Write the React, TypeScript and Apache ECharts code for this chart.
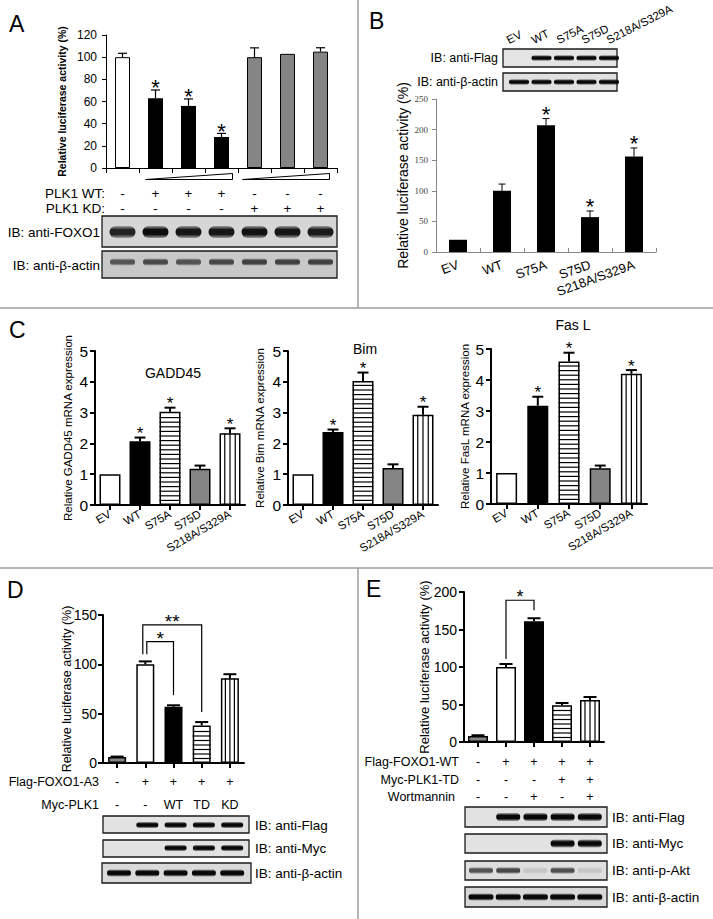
import React, { useEffect, useRef } from "react";
import * as echarts from "echarts";

const SANS = "'Liberation Sans', Arial, Helvetica, sans-serif";
const SERIF = "'Liberation Serif', 'DejaVu Serif', serif";

/* ---------------- Panel A ---------------- */
const aLanes = ["1", "2", "3", "4", "5", "6", "7"];
const aValues = [100, 63, 56, 28, 100, 103, 105];
const aErrors = [3.5, 7.4, 6.3, 3.2, 8.4, 0, 3.5];
const aSig = ["", "*", "*", "*", "", "", ""];
const aPlk1WT = ["-", "+", "+", "+", "-", "-", "-"];
const aPlk1KD = ["-", "-", "-", "-", "+", "+", "+"];
const aFoxo1Bands = [0.88, 1, 0.95, 0.95, 0.97, 0.95, 0.93];
const aActinBands = [0.72, 0.8, 0.74, 0.8, 0.85, 0.85, 0.85];

/* ---------------- Panel B ---------------- */
const bCategories = ["EV", "WT", "S75A", "S75D", "S218A/S329A"];
const bValues = [20, 100, 207, 57, 156];
const bErrors = [0, 11, 11, 10, 14];
const bSig = ["", "", "*", "*", "*"];
const bFlagBands = [0, 1, 1, 1, 1];
const bActinBands = [1, 1, 1, 1, 1];

/* ---------------- Panel C ---------------- */
const cCategories = ["EV", "WT", "S75A", "S75D", "S218A/S329A"];
const gaddValues = [1.0, 2.07, 3.03, 1.18, 2.33];
const gaddErrors = [0, 0.12, 0.13, 0.1, 0.16];
const gaddSig = ["", "*", "*", "", "*"];
const bimValues = [1.0, 2.37, 4.03, 1.2, 2.93];
const bimErrors = [0, 0.08, 0.27, 0.12, 0.26];
const bimSig = ["", "*", "*", "", "*"];
const faslValues = [1.0, 3.17, 4.6, 1.15, 4.2];
const faslErrors = [0, 0.29, 0.28, 0.09, 0.12];
const faslSig = ["", "*", "*", "", "*"];

/* ---------------- Panel D ---------------- */
const dLanes = ["1", "2", "3", "4", "5"];
const dValues = [6, 100, 57, 38, 86];
const dErrors = [0.5, 3, 1.5, 3.5, 4];
const dFlagFoxo1A3 = ["-", "+", "+", "+", "+"];
const dMycPlk1 = ["-", "-", "WT", "TD", "KD"];
const dBrackets = [
  { from: 1, to: 2, top: 123, label: "*" },
  { from: 1, to: 3, top: 140, label: "**" },
];
const dFlagBands = [0, 1, 1, 1, 1];
const dMycBands = [0, 0, 1, 1, 1];
const dActinBands = [1, 1, 1, 1, 1];

/* ---------------- Panel E ---------------- */
const eLanes = ["1", "2", "3", "4", "5"];
const eValues = [8, 100, 161, 49, 56];
const eErrors = [1, 4, 4, 3, 4];
const eFlagFoxo1WT = ["-", "+", "+", "+", "+"];
const eMycPlk1TD = ["-", "-", "-", "+", "+"];
const eWortmannin = ["-", "-", "+", "-", "+"];
const eBrackets = [{ from: 1, to: 2, top: 189, label: "*" }];
const eFlagBands = [0, 1, 1, 1, 1];
const eMycBands = [0, 0, 0, 1, 1];
const ePAktBands = [0.72, 0.78, 0.12, 0.74, 0.12];
const eActinBands = [1, 1, 1, 1, 1];

/* ---------------- styles / layout ---------------- */
const aFill = ["white", "black", "black", "black", "gray", "gray", "gray"];
const bFill = ["black", "black", "black", "black", "black"];
const cFill = ["white", "black", "hstripe", "gray", "vstripe"];
const deFill = ["gray", "white", "black", "hstripe", "vstripe"];

const GRIDS = [
  { left: 106, top: 35, width: 231, height: 133 }, // A
  { left: 436, top: 99, width: 220, height: 153 }, // B
  { left: 95, top: 351, width: 150, height: 154 }, // C GADD45
  { left: 288, top: 351, width: 150, height: 154 }, // C Bim
  { left: 491, top: 349, width: 156, height: 155 }, // C FasL
  { left: 103, top: 615, width: 141, height: 148 }, // D
  { left: 464, top: 592, width: 140, height: 150 }, // E
];

const centersOf = (g: any, n: number) =>
  Array.from({ length: n }, (_, i) => g.left + ((i + 0.5) * g.width) / n);

function fillColor(f: string) {
  if (f === "black") return "#000";
  if (f === "gray") return "#858585";
  return "#fff";
}

function bars(gi: number, values: number[], fills: string[], barWidth: number, bw: number) {
  return {
    type: "bar",
    xAxisIndex: gi,
    yAxisIndex: gi,
    barWidth,
    silent: true,
    z: 2,
    data: values.map((v, i) => ({
      value: v,
      itemStyle: {
        color: fillColor(fills[i]),
        borderColor: "#000",
        borderWidth: fills[i] === "black" ? 0 : bw,
      },
    })),
  };
}

function overlay(gi: number, values: number[], errors: number[], sigs: string[], fills: string[], o: any) {
  return {
    type: "custom",
    xAxisIndex: gi,
    yAxisIndex: gi,
    z: 5,
    silent: true,
    clip: false,
    data: values.map((v, i) => [i, v, errors[i]]),
    renderItem: (params: any, api: any) => {
      const idx = params.dataIndex;
      const i = api.value(0);
      const v = api.value(1);
      const e = api.value(2);
      const base = api.coord([i, 0]);
      const top = api.coord([i, v]);
      const cap = api.coord([i, v + e]);
      const cx = top[0];
      const hw = o.barWidth / 2;
      const kids: any[] = [];
      const ln = (x1: number, y1: number, x2: number, y2: number, w: number) =>
        kids.push({ type: "line", shape: { x1, y1, x2, y2 }, style: { stroke: "#000", lineWidth: w } });
      if (fills[idx] === "hstripe") {
        for (let y = base[1] - o.hGap; y > top[1] + 1.5; y -= o.hGap) ln(cx - hw, y, cx + hw, y, o.stripeW);
      }
      if (fills[idx] === "vstripe") {
        for (let k = 1; k < 4; k++) {
          const x = cx - hw + (k * o.barWidth) / 4;
          ln(x, top[1], x, base[1], o.stripeW);
        }
      }
      if (e > 0) {
        ln(cx, top[1], cx, cap[1], o.errW);
        ln(cx - o.capW / 2, cap[1], cx + o.capW / 2, cap[1], o.errW);
      }
      if (sigs[idx]) {
        kids.push({
          type: "text",
          x: cx,
          y: cap[1] - o.sigDy,
          style: { text: sigs[idx], fill: "#000", fontSize: o.sigSize, fontFamily: SANS, align: "center", verticalAlign: "middle" },
        });
      }
      return { type: "group", children: kids };
    },
  };
}

function brackets(gi: number, list: any[], values: number[], errors: number[], shifts: number[], o: any) {
  return {
    type: "custom",
    xAxisIndex: gi,
    yAxisIndex: gi,
    z: 6,
    silent: true,
    clip: false,
    data: list.map((b) => [b.from, b.to, b.top]),
    renderItem: (params: any, api: any) => {
      const idx = params.dataIndex;
      const from = api.value(0);
      const to = api.value(1);
      const top = api.value(2);
      const t1 = api.coord([from, top]);
      const t2 = api.coord([to, top]);
      const pL = api.coord([from, values[from] + errors[from]]);
      const pR = api.coord([to, values[to] + errors[to]]);
      const x1 = t1[0] + shifts[idx];
      const x2 = t2[0];
      return {
        type: "group",
        children: [
          {
            type: "polyline",
            shape: { points: [[x1, pL[1] - o.leftGap], [x1, t1[1]], [x2, t1[1]], [x2, pR[1] - o.rightGap]] },
            style: { stroke: "#000", lineWidth: o.lw, fill: "none" },
          },
          {
            type: "text",
            x: (x1 + x2) / 2,
            y: t1[1] - o.sigDy,
            style: { text: list[idx].label, fill: "#000", fontSize: o.sigSize, fontFamily: SANS, align: "center", verticalAlign: "middle" },
          },
        ],
      };
    },
  };
}

function catAxis(gi: number, data: string[], o: any) {
  return {
    gridIndex: gi,
    type: "category",
    data,
    boundaryGap: true,
    axisLine: { show: true, lineStyle: { color: o.color, width: o.w } },
    axisTick: { show: true, alignWithLabel: o.align, inside: !!o.inside, length: o.tickLen, lineStyle: { color: o.color, width: o.w } },
    axisLabel: o.label
      ? { show: true, interval: 0, rotate: o.rotate, fontSize: o.fontSize, fontFamily: SANS, color: "#000", margin: o.margin }
      : { show: false },
    splitLine: { show: false },
  };
}

function valAxis(gi: number, max: number, interval: number, o: any) {
  return {
    gridIndex: gi,
    type: "value",
    min: 0,
    max,
    interval,
    axisLine: { show: true, lineStyle: { color: o.color, width: o.w } },
    axisTick: { show: true, inside: false, length: o.tickLen, lineStyle: { color: o.color, width: o.w } },
    axisLabel: { show: true, fontSize: o.fontSize, fontFamily: o.family || SANS, color: o.labelColor || "#000", margin: o.margin },
    splitLine: { show: false },
    name: o.name,
    nameLocation: "middle",
    nameGap: o.nameGap,
    nameRotate: 90,
    nameMoveOverlap: false,
    nameTextStyle: { fontSize: o.nameSize, fontFamily: SANS, color: "#000", fontWeight: o.nameWeight || "normal" },
  };
}

function bandFill(level: number, dark: number) {
  const c = (a: number) => `rgba(${dark},${dark},${dark},${Math.min(1, a)})`;
  return {
    type: "linear",
    x: 0,
    y: 0,
    x2: 0,
    y2: 1,
    colorStops: [
      { offset: 0, color: c(level * 0.3) },
      { offset: 0.3, color: c(level) },
      { offset: 0.7, color: c(level) },
      { offset: 1, color: c(level * 0.3) },
    ],
  };
}

function buildGraphics() {
  const els: any[] = [];
  const T = (text: string, x: number, y: number, size: number, align = "center", extra: any = {}) =>
    els.push({
      type: "text",
      x,
      y,
      rotation: extra.rotation || 0,
      silent: true,
      style: {
        text,
        fill: "#000",
        fontSize: size,
        fontFamily: SANS,
        fontWeight: extra.weight || "normal",
        align,
        verticalAlign: extra.va || "middle",
      },
    });
  const L = (x1: number, y1: number, x2: number, y2: number, color: string, w: number) =>
    els.push({ type: "line", silent: true, shape: { x1, y1, x2, y2 }, style: { stroke: color, lineWidth: w } });
  const box = (x: number, y: number, w: number, h: number, fill: string) =>
    els.push({ type: "rect", silent: true, shape: { x, y, width: w, height: h }, style: { fill, stroke: "#1a1a1a", lineWidth: 1.3 } });
  const bandRow = (centers: number[], cy: number, w: number, h: number, levels: number[], dark = 12) =>
    levels.forEach((lv, i) => {
      if (lv <= 0) return;
      els.push({
        type: "rect",
        silent: true,
        shape: { x: centers[i] - w / 2, y: cy - h / 2, width: w, height: h, r: h / 2 },
        style: { fill: bandFill(lv, dark) },
      });
    });

  // separators
  const sep = "#9c9c9c";
  L(0, 308, 713, 308, sep, 1.5);
  L(0, 568, 713, 568, sep, 1.5);
  L(358, 0, 358, 308, sep, 1.5);
  L(358, 568, 358, 919, sep, 1.5);

  // panel letters
  T("A", 9, 24, 23, "left");
  T("B", 369, 21, 23, "left");
  T("C", 9, 330, 23, "left");
  T("D", 7, 590, 23, "left");
  T("E", 366, 589, 23, "left");

  // ---- A ----
  const aC = centersOf(GRIDS[0], 7);
  els.push({
    type: "polygon",
    silent: true,
    shape: { points: [[aC[1] - 10, 179.5], [aC[3] + 11, 179.5], [aC[3] + 11, 173.5]] },
    style: { fill: "#fff", stroke: "#000", lineWidth: 1 },
  });
  els.push({
    type: "polygon",
    silent: true,
    shape: { points: [[aC[4] - 12, 179.5], [aC[6] + 9, 179.5], [aC[6] + 9, 173.5]] },
    style: { fill: "#fff", stroke: "#000", lineWidth: 1 },
  });
  T("PLK1 WT:", 105, 193, 13.5, "right");
  T("PLK1 KD:", 105, 208, 13.5, "right");
  aPlk1WT.forEach((s, i) => T(s, aC[i], 193, 13.5));
  aPlk1KD.forEach((s, i) => T(s, aC[i], 208, 13.5));
  box(102, 216, 235, 31, "#d6d6d6");
  box(102, 251, 235, 27, "#c8c8c8");
  bandRow(aC, 232, 26, 12, aFoxo1Bands, 12);
  bandRow(aC, 262, 25, 7, aActinBands, 40);
  T("IB: anti-FOXO1", 100, 232, 13.5, "right");
  T("IB: anti-β-actin", 100, 265, 13.5, "right");

  // ---- B ----
  const bLane = bCategories.map((_, i) => 519 + i * 22.5);
  bCategories.forEach((c, i) => T(c, 510 + i * 25, 46, 11.5, "left", { rotation: (27 * Math.PI) / 180, va: "bottom" }));
  box(503, 49, 114, 18, "#e4e4e4");
  box(503, 73, 114, 18, "#e0e0e0");
  bandRow(bLane, 58, 20, 5.5, bFlagBands, 8);
  bandRow(bLane, 82, 20, 5.5, bActinBands, 8);
  T("IB: anti-Flag", 498, 58, 12.5, "right");
  T("IB: anti-β-actin", 498, 82, 12.5, "right");

  // ---- C titles ----
  T("GADD45", 173, 373, 14);
  T("Bim", 365, 349, 14);
  T("Fas L", 573, 325, 14);

  // ---- D ----
  const dC = centersOf(GRIDS[5], 5);
  const dLane = dLanes.map((_, i) => 119 + i * 28.3);
  T("Flag-FOXO1-A3", 99, 782, 12.5, "right");
  T("Myc-PLK1", 99, 805, 12.5, "right");
  dFlagFoxo1A3.forEach((s, i) => T(s, dC[i], 782, 12.5));
  dMycPlk1.forEach((s, i) => T(s, dC[i], 805, 12.5));
  box(103, 816, 146, 17, "#e2e2e2");
  box(103, 840, 146, 17, "#e2e2e2");
  box(102, 863, 149, 20, "#dadada");
  bandRow(dLane, 825, 22, 6, dFlagBands, 8);
  bandRow(dLane, 848, 22, 6, dMycBands, 8);
  bandRow(dLane, 873, 24, 7, dActinBands, 8);
  T("IB: anti-Flag", 255, 825, 13.5, "left");
  T("IB: anti-Myc", 255, 848, 13.5, "left");
  T("IB: anti-β-actin", 255, 873, 13.5, "left");

  // ---- E ----
  const eC = centersOf(GRIDS[6], 5);
  const eLane = eLanes.map((_, i) => 481 + i * 27.2);
  T("Flag-FOXO1-WT", 459, 762, 12.5, "right");
  T("Myc-PLK1-TD", 459, 780, 12.5, "right");
  T("Wortmannin", 455, 797, 12.5, "right");
  eFlagFoxo1WT.forEach((s, i) => T(s, eC[i], 762, 12.5));
  eMycPlk1TD.forEach((s, i) => T(s, eC[i], 780, 12.5));
  eWortmannin.forEach((s, i) => T(s, eC[i], 797, 12.5));
  box(465, 807, 142, 20, "#e2e2e2");
  box(465, 834, 142, 19, "#e2e2e2");
  box(465, 861, 142, 19, "#dedede");
  box(465, 887, 142, 20, "#d8d8d8");
  bandRow(eLane, 817, 24, 8, eFlagBands, 8);
  bandRow(eLane, 843.5, 24, 8, eMycBands, 8);
  bandRow(eLane, 870.5, 24, 6.5, ePAktBands, 30);
  bandRow(eLane, 897, 25, 7, eActinBands, 8);
  T("IB: anti-Flag", 612, 817, 13.5, "left");
  T("IB: anti-Myc", 612, 843.5, 13.5, "left");
  T("IB: anti-p-Akt", 612, 870.5, 13.5, "left");
  T("IB: anti-β-actin", 612, 897, 13.5, "left");

  return els;
}

function buildOption() {
  const blk = { color: "#000", w: 1 };
  const thick = { color: "#000", w: 2 };
  const xAxis = [
    catAxis(0, aLanes, { ...blk, align: false, tickLen: 5, label: false }),
    catAxis(1, bCategories, { color: "#888", w: 1, align: false, inside: true, tickLen: 4, label: true, rotate: 20, fontSize: 13, margin: 12 }),
    catAxis(2, cCategories, { ...thick, align: true, tickLen: 5, label: true, rotate: 30, fontSize: 11.5, margin: 8 }),
    catAxis(3, cCategories, { ...thick, align: true, tickLen: 5, label: true, rotate: 30, fontSize: 11.5, margin: 8 }),
    catAxis(4, cCategories, { ...thick, align: true, tickLen: 5, label: true, rotate: 30, fontSize: 11.5, margin: 8 }),
    catAxis(5, dLanes, { ...thick, align: true, tickLen: 5, label: false }),
    catAxis(6, eLanes, { ...thick, align: true, tickLen: 5, label: false }),
  ];
  const lucName = "Relative luciferase activity (%)";
  const yAxis = [
    valAxis(0, 120, 20, { ...blk, tickLen: 4, fontSize: 12, margin: 9, name: lucName, nameGap: 39, nameSize: 10.5, nameWeight: "bold" }),
    valAxis(1, 250, 50, { color: "#888", w: 1, tickLen: 4, fontSize: 9, family: SERIF, labelColor: "#444", margin: 8, name: lucName, nameGap: 26, nameSize: 14 }),
    valAxis(2, 5, 1, { ...thick, tickLen: 5, fontSize: 15.5, margin: 7, name: "Relative GADD45 mRNA expression", nameGap: 21, nameSize: 11.5 }),
    valAxis(3, 5, 1, { ...thick, tickLen: 5, fontSize: 15.5, margin: 7, name: "Relative Bim mRNA expression", nameGap: 22, nameSize: 11.5 }),
    valAxis(4, 5, 1, { ...thick, tickLen: 5, fontSize: 15.5, margin: 7, name: "Relative FasL mRNA expression", nameGap: 20, nameSize: 11.5 }),
    valAxis(5, 150, 50, { ...thick, tickLen: 5, fontSize: 14, margin: 6, name: lucName, nameGap: 30, nameSize: 12.5 }),
    valAxis(6, 200, 50, { ...thick, tickLen: 5, fontSize: 14, margin: 7, name: lucName, nameGap: 33, nameSize: 13 }),
  ];
  const cOv = { barWidth: 21, capW: 11, errW: 2, stripeW: 1.2, hGap: 4.6, sigSize: 17, sigDy: 4 };
  const deOv = { barWidth: 18, capW: 13, errW: 2, stripeW: 1.2, hGap: 4.5, sigSize: 18, sigDy: 3 };
  const series: any[] = [
    bars(0, aValues, aFill, 15, 1),
    overlay(0, aValues, aErrors, aSig, aFill, { barWidth: 15, capW: 9, errW: 1.2, stripeW: 1, hGap: 4.5, sigSize: 22, sigDy: 2 }),
    bars(1, bValues, bFill, 18, 0),
    overlay(1, bValues, bErrors, bSig, bFill, { barWidth: 18, capW: 7, errW: 1, stripeW: 1, hGap: 4.5, sigSize: 22, sigDy: 4 }),
    bars(2, gaddValues, cFill, 21, 1.5),
    overlay(2, gaddValues, gaddErrors, gaddSig, cFill, cOv),
    bars(3, bimValues, cFill, 21, 1.5),
    overlay(3, bimValues, bimErrors, bimSig, cFill, cOv),
    bars(4, faslValues, cFill, 21, 1.5),
    overlay(4, faslValues, faslErrors, faslSig, cFill, cOv),
    bars(5, dValues, deFill, 18, 1.5),
    overlay(5, dValues, dErrors, ["", "", "", "", ""], deFill, deOv),
    brackets(5, dBrackets, dValues, dErrors, [1.5, -2.5], { leftGap: 7, rightGap: 10, lw: 1.2, sigSize: 19, sigDy: 3 }),
    bars(6, eValues, deFill, 20, 1.5),
    overlay(6, eValues, eErrors, ["", "", "", "", ""], deFill, { ...deOv, barWidth: 20 }),
    brackets(6, eBrackets, eValues, eErrors, [0], { leftGap: 5, rightGap: 8, lw: 1.2, sigSize: 18, sigDy: 3 }),
  ];
  return {
    animation: false,
    backgroundColor: "#fff",
    grid: GRIDS.map((g) => ({ ...g, containLabel: false, outerBoundsMode: "none" })),
    xAxis,
    yAxis,
    series,
    graphic: { elements: buildGraphics() },
  };
}

export default function App() {
  const ref = useRef<HTMLDivElement>(null);
  useEffect(() => {
    const chart = echarts.init(ref.current as HTMLDivElement, null, { renderer: "svg" });
    chart.setOption(buildOption() as any);
    return () => chart.dispose();
  }, []);
  return (
    <div
      ref={ref}
      style={{ position: "absolute", left: 0, top: 0, width: 713, height: 919, background: "#fff" }}
    />
  );
}
